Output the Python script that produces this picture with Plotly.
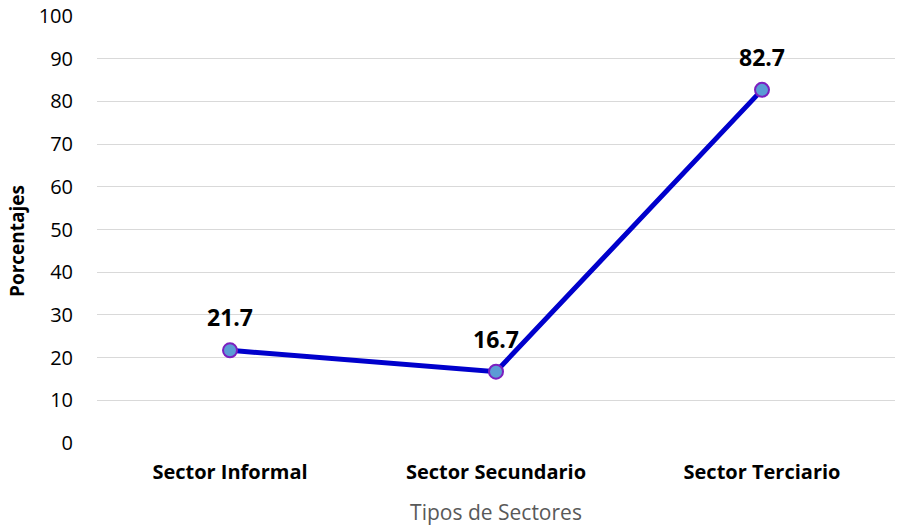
import plotly.graph_objects as go

categories = ["Sector Informal", "Sector Secundario", "Sector Terciario"]
values = [21.7, 16.7, 82.7]
labels = ["21.7", "16.7", "82.7"]
y_ticks = [0, 10, 20, 30, 40, 50, 60, 70, 80, 90, 100]

FONT = "Open Sans, sans-serif"
W, H = 899, 527
L, R, T, B = 97, 4, 16, 84
PW = W - L - R
PH = H - T - B

fig = go.Figure()
fig.add_trace(go.Scatter(
    x=categories, y=values, mode="lines+markers",
    line=dict(color="#0000CC", width=5),
    marker=dict(size=14, color="#5B9BD5", line=dict(color="#7B1FC0", width=2)),
    hoverinfo="skip", showlegend=False,
))
for c, v, t in zip(categories, values, labels):
    fig.add_annotation(x=c, y=v, text="<b>%s</b>" % t, showarrow=False,
                       yshift=33,
                       font=dict(family=FONT, size=23, color="#000000"))

# y-axis title as annotation (positioned like the reference)
fig.add_annotation(xref="paper", yref="paper",
                   x=-(L - 17) / PW, y=1 - (241 - T) / PH,
                   text="<b>Porcentajes</b>", textangle=-90, showarrow=False,
                   xanchor="center", yanchor="middle",
                   font=dict(family=FONT, size=19, color="#000000"))

fig.update_layout(
    width=W, height=H,
    margin=dict(l=L, r=R, t=T, b=B),
    paper_bgcolor="white", plot_bgcolor="white",
    font=dict(family=FONT, color="#000000"),
)
fig.update_xaxes(
    type="category", range=[-0.5, 2.5], automargin=False,
    showgrid=False, showline=False, zeroline=False,
    ticks="outside", ticklen=11, tickcolor="rgba(0,0,0,0)",
    tickfont=dict(family=FONT, size=20, color="#000000"),
    tickprefix="<b>", ticksuffix="</b>",
    title=dict(text="Tipos de Sectores", font=dict(family=FONT, size=21, color="#595959"), standoff=21),
)
fig.update_yaxes(
    range=[0, 100], tickvals=y_ticks, ticktext=[str(v) for v in y_ticks],
    automargin=False,
    showgrid=True, gridcolor="#D9D9D9", gridwidth=1.3, zeroline=False, showline=False,
    ticks="outside", ticklen=19, tickcolor="rgba(0,0,0,0)",
    tickfont=dict(family=FONT, size=20, color="#000000"),
)
fig.write_html("out.html", config={"displayModeBar": False},
               post_script="document.body.style.margin='0';")
